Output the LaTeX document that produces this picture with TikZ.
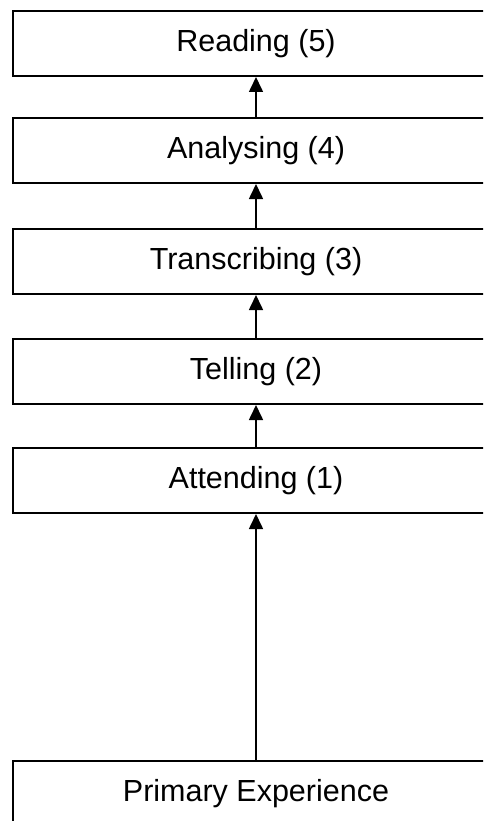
\documentclass[tikz,border=0pt]{standalone}
\usepackage{fontspec}
\setmainfont{Liberation Sans}
\usetikzlibrary{arrows.meta}
\begin{document}
\begin{tikzpicture}[x=1pt,y=-1pt,
  stagebox/.style={draw=black, line width=2pt, fill=white, minimum width=486pt, minimum height=65pt, inner sep=0pt, font=\fontsize{30.5}{36}\selectfont},
  uparrow/.style={line width=1.6pt, -{Triangle[length=15pt,width=14pt]}}]
\useasboundingbox (0,0) rectangle (483,821);
\clip (0,0) rectangle (483,821);
\fill[white] (0,0) rectangle (483,821);
\node[stagebox] (read) at (256,43.5) {Reading (5)};
\node[stagebox] (anal) at (256,150.5) {Analysing (4)};
\node[stagebox] (trans) at (256,261.5) {Transcribing (3)};
\node[stagebox] (tell) at (256,371.5) {Telling (2)};
\node[stagebox] (att) at (256,480.5) {Attending (1)};
\node[stagebox] (prim) at (256,793.5) {Primary Experience};
\draw[uparrow] (prim.north) -- (att.south);
\draw[uparrow] (att.north) -- (tell.south);
\draw[uparrow] (tell.north) -- (trans.south);
\draw[uparrow] (trans.north) -- (anal.south);
\draw[uparrow] (anal.north) -- (read.south);
\end{tikzpicture}
\end{document}
